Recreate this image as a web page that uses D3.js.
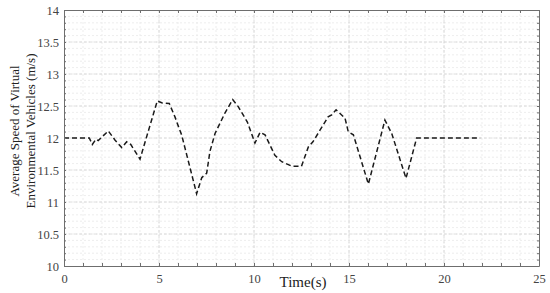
<!DOCTYPE html>
<html>
<head>
<meta charset="utf-8">
<script src="https://cdn.jsdelivr.net/npm/d3@7"></script>
<style>
  body { margin: 0; background: #fff; }
  text { font-family: "Liberation Serif", "DejaVu Serif", serif; }
</style>
</head>
<body>
<div id="chart"></div>
<script>
// time (s) and average speed (m/s)
var times = [0, 1.33, 1.49, 1.68, 1.8, 2.33, 2.68, 3.04, 3.3, 3.51, 4.0, 4.91, 5.14, 5.54, 5.84, 5.96, 6.19, 6.98,
  7.25, 7.51, 7.68, 7.95, 8.47, 8.88, 9.17, 9.65, 10.05, 10.32, 10.58, 11.1, 11.46, 12.0, 12.5, 12.86, 13.1,
  13.9, 14.09, 14.32, 14.79, 14.96, 15.23, 16.02, 16.89, 17.25, 18.0, 18.56, 21.9];
var speeds = [12.0, 12.0, 11.9, 11.98, 11.96, 12.11, 11.97, 11.85, 11.94, 11.9, 11.67, 12.58, 12.55, 12.54, 12.33, 12.23, 12.05, 11.13,
  11.38, 11.45, 11.79, 12.07, 12.39, 12.6, 12.49, 12.25, 11.92, 12.09, 12.05, 11.73, 11.63, 11.56, 11.56, 11.86, 11.94,
  12.33, 12.36, 12.44, 12.31, 12.1, 12.05, 11.28, 12.28, 12.07, 11.37, 12.0, 12.0];

var xTicks = [0, 5, 10, 15, 20, 25];
var yTicks = [10, 10.5, 11, 11.5, 12, 12.5, 13, 13.5, 14];

var data = times.map(function (t, i) {
  return { t: t, v: speeds[i] };
});

var width = 550;
var height = 293;
var margin = { top: 10, right: 11, bottom: 27, left: 64 };
var innerW = width - margin.left - margin.right;
var innerH = height - margin.top - margin.bottom;

var svg = d3
  .select("#chart")
  .append("svg")
  .attr("width", width)
  .attr("height", height);

var g = svg
  .append("g")
  .attr("transform", "translate(" + margin.left + "," + margin.top + ")");

var x = d3.scaleLinear().domain([0, 25]).range([0, innerW]);
var y = d3.scaleLinear().domain([10, 14]).range([innerH, 0]);

// minor grid
g.append("g")
  .selectAll("line")
  .data(d3.range(1, 25))
  .enter()
  .append("line")
  .attr("x1", function (d) { return x(d); })
  .attr("x2", function (d) { return x(d); })
  .attr("y1", 0)
  .attr("y2", innerH)
  .attr("stroke", "#e9e9e9")
  .attr("stroke-width", 0.8)
  .attr("stroke-dasharray", "2,2");

g.append("g")
  .selectAll("line")
  .data(d3.range(1, 40).map(function (i) { return 10 + i * 0.1; }))
  .enter()
  .append("line")
  .attr("x1", 0)
  .attr("x2", innerW)
  .attr("y1", function (d) { return y(d); })
  .attr("y2", function (d) { return y(d); })
  .attr("stroke", "#e9e9e9")
  .attr("stroke-width", 0.8)
  .attr("stroke-dasharray", "2,2");

// major grid
g.append("g")
  .selectAll("line")
  .data(xTicks.slice(1, -1))
  .enter()
  .append("line")
  .attr("x1", function (d) { return x(d); })
  .attr("x2", function (d) { return x(d); })
  .attr("y1", 0)
  .attr("y2", innerH)
  .attr("stroke", "#d6d6d6")
  .attr("stroke-width", 0.8)
  .attr("stroke-dasharray", "3,2");

g.append("g")
  .selectAll("line")
  .data(yTicks.slice(1, -1))
  .enter()
  .append("line")
  .attr("x1", 0)
  .attr("x2", innerW)
  .attr("y1", function (d) { return y(d); })
  .attr("y2", function (d) { return y(d); })
  .attr("stroke", "#d6d6d6")
  .attr("stroke-width", 0.8)
  .attr("stroke-dasharray", "3,2");

// the line
var line = d3
  .line()
  .x(function (d) { return x(d.t); })
  .y(function (d) { return y(d.v); });

g.append("path")
  .datum(data)
  .attr("d", line)
  .attr("fill", "none")
  .attr("stroke", "#1a1a1a")
  .attr("stroke-width", 1.5)
  .attr("stroke-dasharray", "5,3");

// axes, ticks inward on all four sides
function styleAxis(sel) {
  sel.select(".domain").attr("stroke", "#6e6e6e");
  sel.selectAll(".tick line").attr("stroke", "#6e6e6e");
  sel.selectAll("text").attr("fill", "#444").style("font-size", "12.5px");
}

g.append("g")
  .attr("transform", "translate(0," + innerH + ")")
  .call(d3.axisBottom(x).tickValues(d3.range(0, 26)).tickSize(-3).tickSizeOuter(0)
    .tickFormat(function (d) { return d % 5 === 0 ? d : ""; }).tickPadding(8))
  .call(styleAxis);

g.append("g")
  .call(d3.axisTop(x).tickValues(d3.range(0, 26)).tickSize(-3).tickSizeOuter(0).tickFormat(""))
  .call(styleAxis);

g.append("g")
  .call(d3.axisLeft(y).tickValues(d3.range(0, 41).map(function (i) { return 10 + i * 0.1; }))
    .tickSize(-2).tickSizeOuter(0).tickPadding(5)
    .tickFormat(function (d) {
      var r = Math.round(d * 10) / 10;
      return yTicks.indexOf(r) >= 0 ? String(r) : "";
    }))
  .call(styleAxis);

g.append("g")
  .attr("transform", "translate(" + innerW + ",0)")
  .call(d3.axisRight(y).tickValues(d3.range(0, 41).map(function (i) { return 10 + i * 0.1; }))
    .tickSize(-2).tickSizeOuter(0).tickFormat(""))
  .call(styleAxis);

// labels
svg.append("text")
  .attr("x", 303)
  .attr("y", 287)
  .attr("text-anchor", "middle")
  .style("font-size", "15px")
  .attr("fill", "#222")
  .text("Time(s)");

var yl = svg.append("text")
  .attr("transform", "translate(0,131) rotate(-90)")
  .attr("text-anchor", "middle")
  .style("font-size", "13px")
  .attr("fill", "#222");
yl.append("tspan").attr("x", 0).attr("y", 19).text("Average Speed of Virtual");
yl.append("tspan").attr("x", 0).attr("y", 35).text("Environmental Vehicles (m/s)");
</script>
</body>
</html>
